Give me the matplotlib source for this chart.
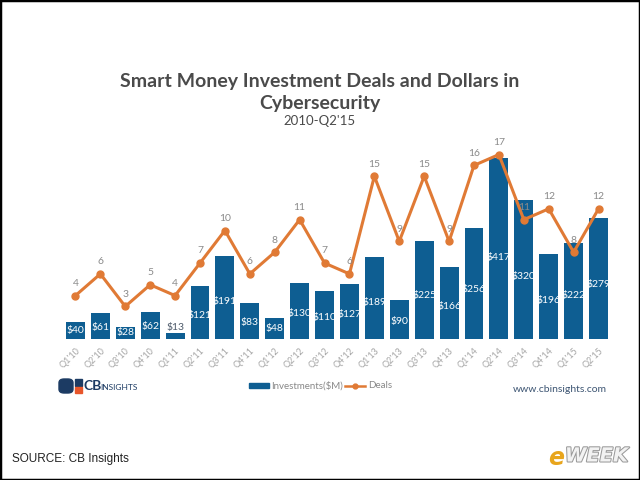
import matplotlib
matplotlib.use("Agg")
import matplotlib.pyplot as plt
import matplotlib.patheffects as pe
from matplotlib.patches import Rectangle, FancyBboxPatch
import numpy as np

# data
quarters = ["Q1'10", "Q2'10", "Q3'10", "Q4'10", "Q1'11", "Q2'11", "Q3'11", "Q4'11",
            "Q1'12", "Q2'12", "Q3'12", "Q4'12", "Q1'13", "Q2'13", "Q3'13", "Q4'13",
            "Q1'14", "Q2'14", "Q3'14", "Q4'14", "Q1'15", "Q2'15"]
investments = [40, 61, 28, 62, 13, 121, 191, 83, 48, 130, 110, 127, 189, 90, 225, 166,
               256, 417, 320, 196, 222, 279]
deals = [4, 6, 3, 5, 4, 7, 10, 6, 8, 11, 7, 6, 15, 9, 15, 9, 16, 17, 11, 12, 8, 12]

blue = "#0E5E92"
orange = "#E07A35"
grey = "#8a8a8a"
font = "Lato"


def fy(py):
    # pixel row (from top) -> figure fraction
    return 1 - py / 480


fig = plt.figure(figsize=(6.4, 4.8), dpi=100)
x = np.arange(len(quarters))

# axes placed in pixel terms: baseline y=339, top y=122
ax = fig.add_axes([63 / 640, 141 / 480, 548 / 640, 217 / 480])
ax.set_xlim(-0.5, len(quarters) - 0.5)
ax.set_ylim(0, 500)
ax.bar(x, investments, width=0.76, color=blue, zorder=2)
for xi, v in zip(x, investments):
    if v < 20:
        ax.text(xi, v + 3, f"${v}", ha="center", va="bottom", color="#4d5a6a",
                fontsize=7.5, family=font)
    else:
        ax.text(xi, v * 0.45 if v > 60 else v / 2, f"${v}", ha="center", va="center",
                color="white", fontsize=7.5, family=font)

ax.set_xticks(x)
ax.set_xticklabels(quarters, rotation=45, ha="right", va="top", rotation_mode="anchor",
                   fontsize=6.5, color="#a5a5a5", family=font)
ax.tick_params(axis="x", length=0, pad=5)
ax.set_yticks([])
for s in ax.spines.values():
    s.set_visible(False)

ax2 = ax.twinx()
ax2.set_ylim(0, 20)
ax2.plot(x, deals, color=orange, lw=2.2, marker="o", ms=5, zorder=3)
for xi, d in zip(x, deals):
    ax2.text(xi, d + 0.7, str(d), ha="center", va="bottom", color=grey,
             fontsize=7.5, family=font)
ax2.set_yticks([])
for s in ax2.spines.values():
    s.set_visible(False)

# titles
fig.text(0.5, fy(82), "Smart Money Investment Deals and Dollars in", ha="center",
         va="center", fontsize=14, fontweight="bold", color="#4a4a4a", family=font)
fig.text(0.5, fy(103), "Cybersecurity", ha="center", va="center", fontsize=14,
         fontweight="bold", color="#4a4a4a", family=font)
fig.text(0.5, fy(121), "2010-Q2'15", ha="center", va="center", fontsize=9.5,
         color="#4a4a4a", family=font)

# legend row
fig.patches.append(Rectangle((249 / 640, fy(388)), 20 / 640, 5 / 480,
                             transform=fig.transFigure, color=blue))
fig.text(271 / 640, fy(385.5), "Investments($M)", ha="left", va="center",
         fontsize=7, color="#888888", family=font)
fig.lines.append(plt.Line2D([345 / 640, 365 / 640], [fy(385.5), fy(385.5)],
                            transform=fig.transFigure, color=orange, lw=1.8))
fig.lines.append(plt.Line2D([355 / 640], [fy(385.5)], transform=fig.transFigure,
                            color=orange, marker="o", ms=3.5))
fig.text(368 / 640, fy(385.5), "Deals", ha="left", va="center", fontsize=7,
         color="#888888", family=font)

# CB Insights logo (approximation)
navy = "#1c3b63"
fig.patches.append(FancyBboxPatch((59 / 640, fy(393)), 14 / 640, 14 / 480,
                                  boxstyle="round,pad=0,rounding_size=0.008",
                                  transform=fig.transFigure, color=navy))
fig.patches.append(Rectangle((74.5 / 640, fy(386)), 7 / 640, 7 / 480,
                             transform=fig.transFigure, color=navy))
fig.patches.append(Rectangle((74.5 / 640, fy(393)), 7 / 640, 6 / 480,
                             transform=fig.transFigure, color="#e8562a"))
fig.text(83 / 640, fy(386), "CB", ha="left", va="center", fontsize=10,
         fontweight="bold", color=navy, family=font)
fig.text(100 / 640, fy(387), "INSIGHTS", ha="left", va="center", fontsize=6,
         color=navy, family=font)

fig.text(607 / 640, fy(390), "www.cbinsights.com", ha="right", va="center",
         fontsize=7.5, color="#3d5573", family=font)

fig.text(12 / 640, fy(459), "SOURCE: CB Insights", ha="left", va="center",
         fontsize=8.5, color="#222222", family="Liberation Sans")

# eWEEK mark
fig.text(548 / 640, fy(458), "e", ha="left", va="center", fontsize=17,
         fontweight="bold", style="italic", color="#e8a51c", family="DejaVu Sans")
fig.text(565 / 640, fy(456), "WEEK", ha="left", va="center", fontsize=14,
         fontweight="bold", style="italic", color="#f2f2f2", family="DejaVu Sans",
         path_effects=[pe.withStroke(linewidth=1.5, foreground="#9a9a9a")])

# outer border
fig.patches.append(Rectangle((0, 0), 1, 1, transform=fig.transFigure, fill=False,
                             edgecolor="black", lw=2.5))

fig.savefig("out.png", dpi=100)
